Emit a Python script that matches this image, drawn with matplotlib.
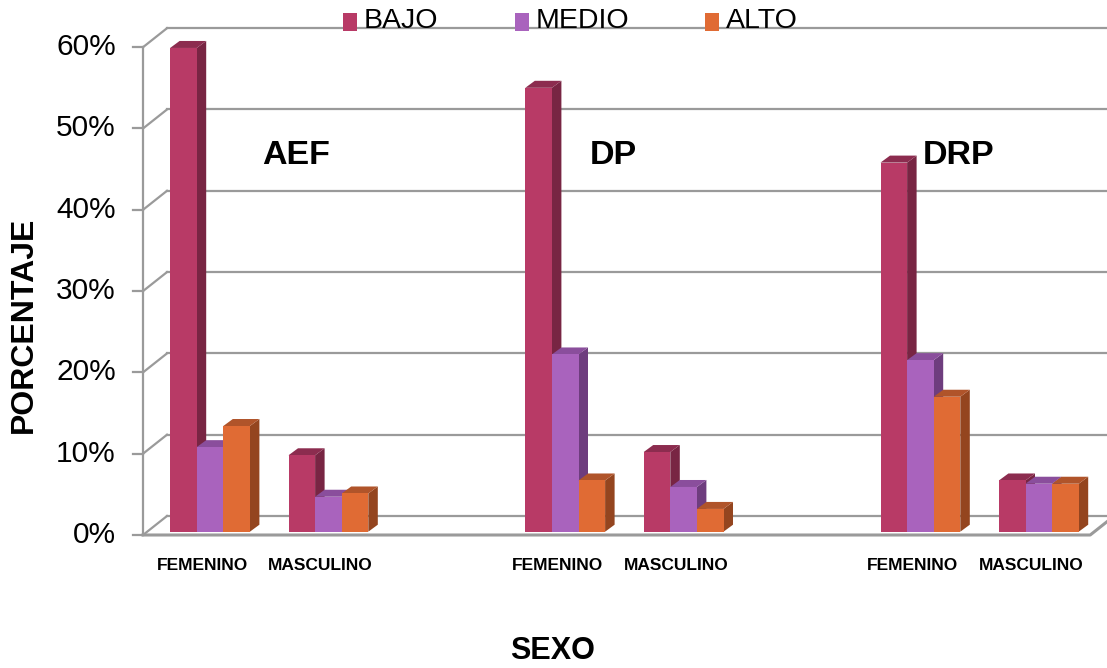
import matplotlib.pyplot as plt
from matplotlib.patches import Polygon, Rectangle

plt.rcParams['font.family'] = ['Liberation Sans', 'DejaVu Sans']

# porcentaje por dimension y sexo
dimensions = ['AEF', 'DP', 'DRP']
sexes = ['FEMENINO', 'MASCULINO']
levels = ['BAJO', 'MEDIO', 'ALTO']
bajo = [59.5, 9.4, 54.6, 9.8, 45.4, 6.3]
medio = [10.4, 4.3, 21.8, 5.5, 21.1, 5.9]
alto = [13.0, 4.7, 6.3, 2.8, 16.6, 5.9]
y_ticks = [0, 10, 20, 30, 40, 50, 60]

front = ['#B83A66', '#A963BD', '#E06B34']
side = ['#782543', '#6E3D7E', '#94451F']
top = ['#8C2C4F', '#8A4E9C', '#B0542A']

W, H = 1107, 668
X0, SLOT = 143, 118.4       # pixel origin / width of one category slot
Y0, PPU = 535, 8.13         # pixel baseline / pixels per percent


def px(x):
    return (x - X0) / SLOT


def py(y):
    return (Y0 - y) / PPU


fig = plt.figure(figsize=(W / 100, H / 100), dpi=100)
ax = fig.add_axes([0, 0, 1, 1])
ax.set_xlim(px(0), px(W))
ax.set_ylim(py(H), py(0))
ax.axis('off')

grid = '#9A9A9A'
dx, dy = 24 / SLOT, 19 / PPU      # wall depth
n_slots = 8

# back wall gridlines + side wall diagonals
for t in y_ticks:
    ax.plot([dx, n_slots + 1], [t + dy, t + dy], color=grid, lw=1.6, zorder=1)
    ax.plot([0, dx], [t, t + dy], color=grid, lw=1.6, zorder=1)
    ax.plot([px(133), 0], [t, t], color=grid, lw=1.6, zorder=1)
    ax.text(px(116), t, f'{t}%', ha='right', va='center', fontsize=21.5)
ax.plot([0, 0], [0, y_ticks[-1]], color=grid, lw=1.6, zorder=1)
# floor
ax.plot([0, n_slots, n_slots + dx], [0, 0, dy], color=grid, lw=2.2, zorder=2)

# bars
slots = [0, 1, 3, 4, 6, 7]
bw = 26.6 / SLOT
sx, sy = 7.8 / SLOT, 3.3 / PPU     # bar front face inside the floor
bdx, bdy = 9.5 / SLOT, 7 / PPU     # bar depth
series = [bajo, medio, alto]
for i, s in enumerate(slots):
    left = s + 0.5 - 1.5 * bw + sx
    for j, vals in enumerate(series):
        x0 = left + j * bw
        x1 = x0 + bw
        b = sy
        v = vals[i] + sy
        ax.add_patch(Polygon([(x1, b), (x1, v), (x1 + bdx, v + bdy), (x1 + bdx, b + bdy)],
                             closed=True, fc=side[j], ec='none', zorder=3))
        ax.add_patch(Polygon([(x0, v), (x1, v), (x1 + bdx, v + bdy), (x0 + bdx, v + bdy)],
                             closed=True, fc=top[j], ec='none', zorder=3))
        ax.add_patch(Rectangle((x0, b), bw, vals[i], fc=front[j], ec='none', zorder=3))
    ax.text(s + 0.5, py(565), sexes[i % 2], ha='center', va='center',
            fontsize=12.5, fontweight='bold')

# dimension names
for name, x in zip(dimensions, [262, 590, 923]):
    ax.text(px(x), py(155), name, ha='left', va='center', fontsize=24.5, fontweight='bold')

ax.text(px(553), py(651), 'SEXO', ha='center', va='center', fontsize=22, fontweight='bold')
ax.text(px(24), py(325), 'PORCENTAJE', ha='center', va='center', rotation=90,
        fontsize=23, fontweight='bold')

# legend
for lab, col, x in zip(levels, front, [343, 515, 705]):
    ax.add_patch(Rectangle((px(x), py(31)), 14 / SLOT, 18 / PPU, fc=col, ec='none', zorder=4))
    ax.text(px(x + 21), py(21), lab, ha='left', va='center', fontsize=20.5, zorder=4)

fig.savefig('out.png', dpi=100)
